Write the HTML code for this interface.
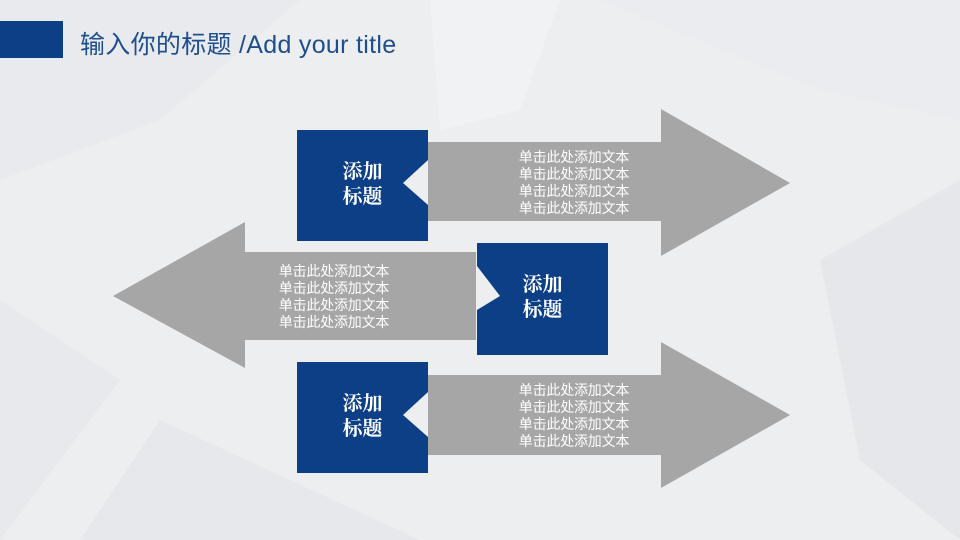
<!DOCTYPE html>
<html><head><meta charset="utf-8"><style>
body{margin:0}
#p{position:relative;width:960px;height:540px;overflow:hidden;background:#eceef0;font-family:"Liberation Sans","Noto Sans CJK SC",sans-serif}
svg{position:absolute;left:0;top:0}
.t{position:absolute;color:#fff;font-size:14px;line-height:17px;text-align:center;width:160px;letter-spacing:-0.2px}
.h{position:absolute;color:#fff;font-family:"Liberation Serif","Noto Serif CJK SC",serif;font-weight:bold;font-size:20px;line-height:25px;text-align:center;width:131px}
</style></head><body><div id="p">
<svg width="960" height="540">
<polygon points="0,0 300,0 160,120 0,180" fill="#e8eaed"/>
<polygon points="600,0 960,0 960,120 820,90" fill="#eaecef"/>
<polygon points="0,300 120,380 0,540" fill="#e7e9ec"/>
<polygon points="160,420 420,540 80,540" fill="#e6e8eb"/>
<polygon points="820,260 960,180 960,540 860,460" fill="#e5e7ea"/>
<polygon points="430,0 560,0 520,110 440,130" fill="#f1f2f4"/>
<rect x="0" y="21" width="63" height="37" fill="#0c3f85"/>
<g fill="#a6a6a6">
<polygon points="428,142 661,142 661,109 790,183 661,256 661,221 428,221"/>
<polygon points="476,252 245,252 245,222 113,296 245,368 245,340 476,340"/>
<polygon points="428,375 661,375 661,342 790,415 661,488 661,455 428,455"/>
</g>
<g fill="#0c3f85">
<polygon points="297,130 428,130 428,160 403,183 428,205 428,241 297,241"/>
<polygon points="477,243 608,243 608,355 477,355 477,310 500,296 477,266"/>
<polygon points="297,362 428,362 428,392 403,415 428,437 428,473 297,473"/>
</g>
</svg>
<div style="position:absolute;left:80px;top:25px;font-size:25px;color:#1f4e8c;white-space:nowrap;letter-spacing:0.3px">输入你的标题 /Add your title</div>
<div class="h" style="left:297px;top:160px">添加<br>标题</div>
<div class="h" style="left:477px;top:273px">添加<br>标题</div>
<div class="h" style="left:297px;top:392px">添加<br>标题</div>
<div class="t" style="left:494px;top:149px">单击此处添加文本<br>单击此处添加文本<br>单击此处添加文本<br>单击此处添加文本</div>
<div class="t" style="left:254px;top:263px">单击此处添加文本<br>单击此处添加文本<br>单击此处添加文本<br>单击此处添加文本</div>
<div class="t" style="left:494px;top:382px">单击此处添加文本<br>单击此处添加文本<br>单击此处添加文本<br>单击此处添加文本</div>
</div></body></html>
